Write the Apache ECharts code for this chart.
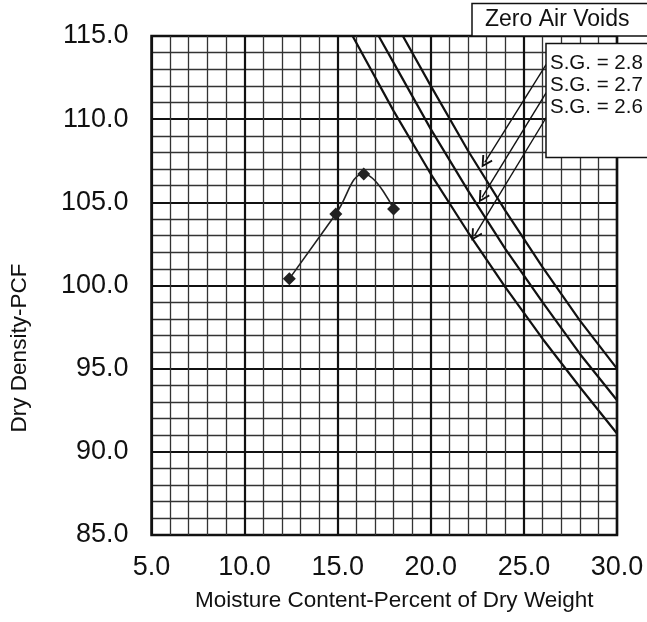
<!DOCTYPE html>
<html>
<head>
<meta charset="utf-8">
<script src="https://cdn.jsdelivr.net/npm/echarts@6/dist/echarts.min.js"></script>
<style>
  html, body { margin: 0; padding: 0; background: #fff; }
  #chart { width: 647px; height: 622px; }
</style>
</head>
<body>
<div id="chart"></div>
<script>
// Proctor compaction test: measured points
const moisture = [12.4, 14.9, 16.4, 18.0];
const dryDensity = [100.4, 104.3, 106.7, 104.6];

// Zero air voids curves for three specific gravities
const zavMoisture28 = [18.5, 20, 22, 24, 26, 28, 30];
const zavDensity28 = [115.0, 112.0, 108.1, 104.5, 101.1, 97.9, 95.0];
const zavMoisture27 = [17.2, 18, 20, 22, 24, 26, 28, 30];
const zavDensity27 = [115.0, 113.4, 109.4, 105.7, 102.2, 99.0, 95.9, 93.1];
const zavMoisture26 = [15.8, 18, 20, 22, 24, 26, 28, 30];
const zavDensity26 = [115.0, 110.5, 106.7, 103.2, 99.9, 96.8, 93.9, 91.1];

// Legend captions and pointer arrows (start near caption, head at curve)
const legendTitle = 'Zero Air Voids';
const sgLabels = ['S.G. = 2.8', 'S.G. = 2.7', 'S.G. = 2.6'];
const arrowStart = [[26.2, 113.3], [26.2, 111.6], [26.2, 110.1]];
const arrowEnd = [[22.9, 107.4], [22.75, 105.3], [22.35, 103.0]];

// Axis ticks
const xTicks = [5, 10, 15, 20, 25, 30];
const xTickLabels = ['5.0', '10.0', '15.0', '20.0', '25.0', '30.0'];
const yTicks = [85, 90, 95, 100, 105, 110, 115];
const yTickLabels = ['85.0', '90.0', '95.0', '100.0', '105.0', '110.0', '115.0'];

const xTitle = 'Moisture Content-Percent of Dry Weight';
const yTitle = 'Dry Density-PCF';

const FONT = '"Liberation Sans", Arial, Helvetica, sans-serif';
const INK = '#111';

// open "V" arrow head, tip pointing up before rotation
const OPEN_ARROW = 'path://M5,0 L10,9 L8.7,9.9 L5,3.2 L1.3,9.9 L0,9 Z';

function pairs(xs, ys) { return xs.map((x, i) => [x, ys[i]]); }
function tickLabel(ticks, labels) {
  return v => { const i = ticks.indexOf(Math.round(v * 10) / 10); return i >= 0 ? labels[i] : ''; };
}

const chart = echarts.init(document.getElementById('chart'), null, { renderer: 'canvas' });

const zavLine = (name, xs, ys) => ({
  name, type: 'line', data: pairs(xs, ys), showSymbol: false, symbol: 'none',
  lineStyle: { color: INK, width: 2.2 }, z: 3, silent: true
});

const option = {
  animation: false,
  backgroundColor: '#fff',
  grid: {
    left: 151.5, right: 30, top: 36, bottom: 87,
    show: true, borderColor: INK, borderWidth: 2.5, backgroundColor: '#fff'
  },
  xAxis: {
    type: 'value', min: 5, max: 30, interval: 5,
    axisLine: { show: false }, axisTick: { show: false },
    axisLabel: { formatter: tickLabel(xTicks, xTickLabels), fontSize: 27, color: INK, margin: 19, fontFamily: FONT },
    splitLine: { show: true, lineStyle: { color: INK, width: 2.2 } },
    minorTick: { show: false, splitNumber: 5 },
    minorSplitLine: { show: true, lineStyle: { color: '#333', width: 1.3 } }
  },
  yAxis: {
    type: 'value', min: 85, max: 115, interval: 5,
    axisLine: { show: false }, axisTick: { show: false },
    axisLabel: { formatter: tickLabel(yTicks, yTickLabels), fontSize: 27, color: INK, margin: 23, fontFamily: FONT },
    splitLine: { show: true, lineStyle: { color: INK, width: 2.2 } },
    minorTick: { show: false, splitNumber: 5 },
    minorSplitLine: { show: true, lineStyle: { color: '#333', width: 1.3 } }
  },
  series: [
    zavLine(sgLabels[0], zavMoisture28, zavDensity28),
    zavLine(sgLabels[1], zavMoisture27, zavDensity27),
    zavLine(sgLabels[2], zavMoisture26, zavDensity26),
    {
      name: 'Compaction', type: 'line', data: pairs(moisture, dryDensity),
      smooth: 0.45, symbol: 'diamond', symbolSize: 13,
      itemStyle: { color: '#222' }, lineStyle: { color: '#222', width: 1.6 }, z: 4
    },
    {
      name: 'Pointers', type: 'lines', coordinateSystem: 'cartesian2d',
      data: arrowStart.map((s, i) => ({ coords: [s, arrowEnd[i]] })),
      symbol: ['none', OPEN_ARROW], symbolSize: 12,
      lineStyle: { color: INK, width: 1.4, opacity: 1 }, z: 5, silent: true
    }
  ],
  graphic: [
    {
      type: 'text', left: 195, top: 589, z: 100,
      style: { text: xTitle, font: '22.5px ' + FONT, fill: INK }
    },
    {
      type: 'text', z: 100, x: 20, y: 348, rotation: Math.PI / 2,
      style: { text: yTitle, font: '22.5px ' + FONT, fill: INK, align: 'center', verticalAlign: 'middle' }
    },
    {
      type: 'rect', z: 100, shape: { x: 472, y: 3.5, width: 180, height: 32.5 },
      style: { fill: '#fff', stroke: INK, lineWidth: 1.5 }
    },
    {
      type: 'text', z: 101, x: 485, y: 20,
      style: { text: legendTitle, font: '23px ' + FONT, fill: INK, verticalAlign: 'middle' }
    },
    {
      type: 'rect', z: 100, shape: { x: 546, y: 43.5, width: 110, height: 114 },
      style: { fill: '#fff', stroke: INK, lineWidth: 1.5 }
    },
    ...sgLabels.map((t, i) => ({
      type: 'text', z: 101, x: 550, y: 63 + i * 22,
      style: { text: t, font: '20.5px ' + FONT, fill: INK, verticalAlign: 'middle' }
    }))
  ]
};

chart.setOption(option);
</script>
</body>
</html>
